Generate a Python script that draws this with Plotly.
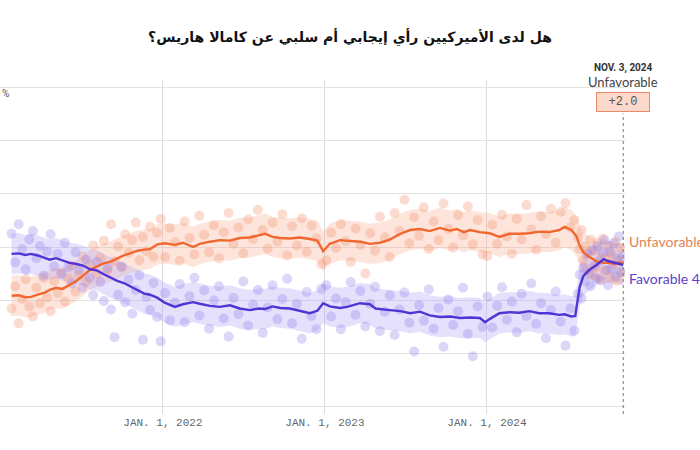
import plotly.graph_objects as go

# ---------------- data ----------------
trend_dates_unfav = ["2021-01-25","2021-02-10","2021-02-25","2021-03-10","2021-03-25","2021-04-10","2021-04-21","2021-05-05","2021-05-20","2021-06-05","2021-06-20","2021-07-05","2021-07-21","2021-08-05","2021-08-20","2021-09-04","2021-09-20","2021-10-05","2021-10-19","2021-11-05","2021-11-20","2021-12-03","2021-12-20","2022-01-05","2022-01-28","2022-02-15","2022-03-10","2022-03-25","2022-04-17","2022-05-10","2022-06-01","2022-06-23","2022-07-16","2022-08-05","2022-08-19","2022-09-05","2022-09-22","2022-10-14","2022-11-05","2022-11-28","2022-12-15","2022-12-28","2023-01-12","2023-02-04","2023-02-20","2023-03-21","2023-04-12","2023-05-05","2023-05-27","2023-06-20","2023-07-12","2023-08-03","2023-08-25","2023-09-17","2023-10-10","2023-10-25","2023-11-10","2023-11-24","2023-12-16","2024-01-07","2024-01-29","2024-02-21","2024-03-14","2024-04-05","2024-04-28","2024-05-20","2024-06-12","2024-06-24","2024-07-09","2024-07-21","2024-07-27","2024-08-05","2024-08-19","2024-09-04","2024-09-20","2024-10-03","2024-10-14","2024-10-25","2024-11-03"]
trend_unfav = [40.8,40.9,40.5,40.6,41.0,41.4,41.9,42.3,42.1,42.8,43.6,44.6,45.7,46.3,46.9,47.2,47.9,48.4,48.8,49.3,49.5,49.6,50.5,50.7,50.4,50.8,50.0,50.6,51.0,51.3,51.2,51.7,51.8,52.2,52.5,51.9,51.7,51.6,51.8,51.5,51.2,49.2,50.6,51.3,51.2,51.0,50.6,50.8,51.4,52.5,53.2,53.4,53.0,53.6,53.1,53.4,52.8,53.2,52.8,52.6,51.9,52.5,52.5,52.6,52.9,52.8,53.2,53.8,53.2,52.0,50.4,49.0,48.1,47.3,47.0,47.0,46.8,47.1,46.9]

trend_dates_fav = ["2021-01-25","2021-02-10","2021-02-25","2021-03-10","2021-03-25","2021-04-10","2021-04-21","2021-05-05","2021-05-20","2021-06-05","2021-06-20","2021-07-05","2021-07-21","2021-08-05","2021-08-20","2021-09-04","2021-09-20","2021-10-05","2021-10-19","2021-11-05","2021-11-20","2021-12-03","2021-12-20","2022-01-05","2022-01-28","2022-02-15","2022-03-10","2022-03-25","2022-04-17","2022-05-09","2022-06-01","2022-06-23","2022-07-16","2022-08-05","2022-08-19","2022-09-05","2022-09-22","2022-10-14","2022-11-05","2022-11-28","2022-12-15","2022-12-28","2023-01-12","2023-02-04","2023-02-20","2023-03-21","2023-04-12","2023-04-25","2023-05-27","2023-06-20","2023-07-12","2023-08-03","2023-08-25","2023-09-17","2023-10-10","2023-11-01","2023-11-24","2023-12-16","2023-12-28","2024-01-07","2024-01-29","2024-02-21","2024-03-14","2024-04-05","2024-04-28","2024-05-20","2024-06-12","2024-06-24","2024-07-09","2024-07-18","2024-07-21","2024-07-28","2024-08-05","2024-08-19","2024-09-04","2024-09-20","2024-09-28","2024-10-14","2024-10-25","2024-11-03"]
trend_fav = [48.7,48.8,48.5,48.7,48.4,48.0,47.6,47.9,47.4,47.0,46.8,46.5,45.8,45.6,44.9,44.2,43.6,43.2,42.6,41.9,41.2,41.0,40.4,39.5,38.7,39.2,39.6,39.3,38.9,38.7,39.0,38.4,38.1,38.4,38.3,38.8,38.5,38.4,37.9,37.5,38.0,39.4,38.8,38.5,38.7,39.4,39.2,38.4,38.1,37.9,37.5,37.8,37.1,36.8,36.9,36.6,36.7,36.6,35.8,36.4,37.5,37.7,37.6,37.9,37.5,37.5,37.2,37.3,36.9,37.0,38.7,42.5,44.5,45.7,46.6,47.7,47.4,47.0,46.8,46.6]

unfav_spread = 3.8
fav_spread = 3.8

poll_dates = [
 "2021-01-25","2021-02-02","2021-02-10","2021-02-18","2021-02-26","2021-03-06","2021-03-14","2021-03-22","2021-03-30","2021-04-07","2021-04-15","2021-04-23","2021-05-01","2021-05-09","2021-05-17","2021-05-25","2021-06-02","2021-06-10","2021-06-18","2021-06-26","2021-07-04","2021-07-12","2021-07-20","2021-07-28","2021-08-05","2021-08-13","2021-08-21","2021-08-29","2021-09-06","2021-09-14","2021-09-22","2021-09-30","2021-10-08","2021-10-16","2021-10-24","2021-11-01","2021-11-09","2021-11-17","2021-11-25","2021-12-03","2021-12-11","2021-12-19","2021-12-27",
 "2022-01-06","2022-01-17","2022-01-28","2022-02-08","2022-02-19","2022-03-02","2022-03-13","2022-03-24","2022-04-04","2022-04-15","2022-04-26","2022-05-07","2022-05-18","2022-05-29","2022-06-09","2022-06-20","2022-07-01","2022-07-12","2022-07-23","2022-08-03","2022-08-14","2022-08-25","2022-09-05","2022-09-16","2022-09-27","2022-10-08","2022-10-19","2022-10-30","2022-11-10","2022-11-21","2022-12-02","2022-12-13","2022-12-24",
 "2023-01-04","2023-01-15","2023-01-26","2023-02-06","2023-02-17","2023-02-28","2023-03-11","2023-03-22","2023-04-02","2023-04-13","2023-04-24","2023-05-05","2023-05-16","2023-05-27","2023-06-07","2023-06-18","2023-06-29","2023-07-10","2023-07-21","2023-08-01","2023-08-12","2023-08-23","2023-09-03","2023-09-14","2023-09-25","2023-10-06","2023-10-17","2023-10-28","2023-11-08","2023-11-19","2023-11-30","2023-12-11","2023-12-22",
 "2024-01-02","2024-01-13","2024-01-24","2024-02-04","2024-02-15","2024-02-26","2024-03-08","2024-03-19","2024-03-30","2024-04-10","2024-04-21","2024-05-02","2024-05-13","2024-05-24","2024-06-04","2024-06-15","2024-06-26","2024-07-07","2024-07-16",
 "2024-07-24","2024-07-28","2024-08-01","2024-08-05","2024-08-09","2024-08-13","2024-08-17","2024-08-21","2024-08-25","2024-08-29","2024-09-02","2024-09-06","2024-09-10","2024-09-14","2024-09-18","2024-09-22","2024-09-26","2024-09-30","2024-10-04","2024-10-08","2024-10-12","2024-10-16","2024-10-20","2024-10-24","2024-10-28","2024-11-01"]

poll_unfav = [
 38.4,42.6,35.6,40.2,43.9,38.8,36.9,42.3,39.4,44.1,40.5,37.9,43.6,41.3,45.2,39.7,44.0,46.5,41.6,44.7,48.2,43.5,46.8,50.3,44.9,48.0,51.2,45.6,54.3,47.3,50.1,46.2,52.4,48.9,51.3,54.6,47.5,51.9,49.2,53.8,48.1,52.7,55.3,
 48.1,53.6,50.9,47.4,54.8,51.7,48.6,55.9,52.3,49.0,54.1,47.9,52.8,56.4,50.6,53.7,48.8,55.2,51.5,57.0,53.2,49.7,54.6,51.0,56.2,48.4,53.9,50.3,55.4,49.1,54.0,51.6,46.8,
 47.5,52.7,49.8,54.3,51.1,47.2,53.5,50.4,45.0,52.6,49.3,55.7,51.8,48.1,56.4,53.0,58.9,50.7,55.6,52.1,57.5,49.6,54.8,51.3,58.2,53.4,49.9,56.0,52.2,57.7,50.5,55.1,48.6,
 48.3,54.2,50.6,56.1,52.0,48.7,55.3,51.4,57.9,53.3,49.5,55.8,52.4,57.2,50.8,56.6,58.3,53.7,55.1,
 51.8,49.6,53.2,47.5,50.1,45.8,48.9,51.4,44.7,49.3,46.2,50.8,43.9,48.0,51.6,45.5,47.9,50.2,44.3,48.6,46.7,51.0,43.6,47.4,49.8,45.1]

poll_fav = [
 52.5,47.1,54.3,49.6,45.8,51.4,53.0,47.9,50.2,44.6,49.1,52.4,46.3,48.7,44.9,50.8,46.2,43.1,49.0,45.7,42.3,47.6,44.1,40.9,47.2,43.4,39.8,46.0,38.2,33.0,41.0,46.3,39.6,43.8,37.4,41.9,44.7,32.5,40.6,38.1,43.2,36.8,32.2,
 41.3,36.2,39.5,43.0,35.8,40.7,44.2,37.1,41.8,34.6,39.9,42.6,36.5,33.1,40.4,37.3,43.5,35.2,39.1,41.9,33.8,38.6,42.8,36.4,40.2,44.0,35.6,39.3,32.7,41.5,37.0,34.5,42.1,
 42.8,36.9,40.3,34.5,39.6,43.4,37.2,41.7,35.0,39.3,42.5,34.1,37.8,40.9,33.4,38.2,41.4,35.7,30.3,39.0,36.1,42.0,34.6,38.5,31.2,40.1,35.3,37.9,42.3,33.6,29.4,38.8,34.9,
 40.6,34.8,38.9,42.4,36.3,39.7,33.9,41.2,37.0,43.1,35.5,39.4,32.8,38.1,41.6,35.9,31.4,38.4,34.2,
 41.2,44.8,40.3,46.1,43.5,48.7,45.0,42.6,49.5,46.4,44.1,50.2,47.3,43.7,48.9,51.3,45.6,42.8,49.1,46.0,50.6,44.4,47.8,52.0,45.3,48.2]

y_grid_values = [20, 30, 40, 50, 60, 70, 80]
x_tick_dates = ["2022-01-01", "2023-01-01", "2024-01-01"]
x_tick_labels = ["JAN. 1, 2022", "JAN. 1, 2023", "JAN. 1, 2024"]
end_date = "2024-11-03"
end_label_unfav = "Unfavorable 48.2%"
end_label_fav = "Favorable 46.2%"
end_unfav_value = 47.0
end_fav_value = 46.4
title_text = "هل لدى الأميركيين رأي إيجابي أم سلبي عن كامالا هاريس؟"

# ---------------- styles ----------------
ORANGE = "#f0672f"
PURPLE = "#5233d4"

fig = go.Figure()

def band(dates, vals, spread, color):
    upper = [v + spread for v in vals]
    lower = [v - spread for v in vals]
    fig.add_trace(go.Scatter(x=dates, y=upper, mode="lines", line=dict(width=0),
                             hoverinfo="skip", showlegend=False))
    fig.add_trace(go.Scatter(x=dates, y=lower, mode="lines", line=dict(width=0),
                             fill="tonexty", fillcolor=color, hoverinfo="skip", showlegend=False))

band(trend_dates_unfav, trend_unfav, unfav_spread, "rgba(250,175,150,0.33)")
band(trend_dates_fav, trend_fav, fav_spread, "rgba(175,165,245,0.33)")

fig.add_trace(go.Scatter(x=poll_dates, y=poll_unfav, mode="markers",
                         marker=dict(size=10, color="rgba(245,150,115,0.33)", line=dict(width=0)),
                         showlegend=False))
fig.add_trace(go.Scatter(x=poll_dates, y=poll_fav, mode="markers",
                         marker=dict(size=10, color="rgba(150,130,235,0.33)", line=dict(width=0)),
                         showlegend=False))

fig.add_trace(go.Scatter(x=trend_dates_unfav, y=trend_unfav, mode="lines",
                         line=dict(color=ORANGE, width=2.4), showlegend=False))
fig.add_trace(go.Scatter(x=trend_dates_fav, y=trend_fav, mode="lines",
                         line=dict(color=PURPLE, width=2.4), showlegend=False))

fig.add_shape(type="line", x0=end_date, x1=end_date, xref="x", yref="paper",
              y0=0.0, y1=0.9, line=dict(color="#777", width=1, dash="dot"))

annotations = [
    dict(x=0, xref="paper", y=80, yref="y", text="%", showarrow=False,
         xanchor="left", yanchor="top", yshift=2, font=dict(size=10, color="#555", family="Roboto")),
    dict(x=end_date, xref="x", y=1.0, yref="paper", yshift=4, text="<b>NOV. 3, 2024</b>", showarrow=False,
         xanchor="center", yanchor="bottom", font=dict(size=10, color="#333", family="Roboto")),
    dict(x=end_date, xref="x", y=1.0, yref="paper", yshift=-12, text="Unfavorable", showarrow=False,
         xanchor="center", yanchor="bottom", font=dict(size=13, color="#444", family="Lato")),
    dict(x=end_date, xref="x", y=1.0, yref="paper", yshift=-32, text="+2.0", showarrow=False,
         xanchor="center", yanchor="bottom", bgcolor="#fcd8ca", bordercolor="#e88a6c", borderwidth=1,
         borderpad=2, width=48,
         font=dict(size=12, color="#555", family="Liberation Mono")),
    dict(x=end_date, xref="x", y=end_unfav_value, yref="y", yshift=21, xshift=4, text=end_label_unfav,
         showarrow=False, xanchor="left", yanchor="middle",
         font=dict(size=14, color="#e5825a", family="Lato")),
    dict(x=end_date, xref="x", y=end_fav_value, yref="y", yshift=-12, xshift=4, text=end_label_fav,
         showarrow=False, xanchor="left", yanchor="middle",
         font=dict(size=14, color="#5a43c9", family="Lato")),
]

fig.update_layout(
    width=700, height=450,
    margin=dict(l=0, r=75, t=80, b=36),
    paper_bgcolor="white", plot_bgcolor="white",
    title=dict(text="<b>" + title_text + "</b>", x=0.5, xanchor="center", y=0.918, yanchor="middle",
               font=dict(size=14, color="#111", family="DejaVu Sans")),
    annotations=annotations,
    xaxis=dict(range=["2020-12-30", "2024-11-07"], tickvals=x_tick_dates, ticktext=x_tick_labels,
               showgrid=True, gridcolor="#dcdcdc", gridwidth=1, zeroline=False, showline=False,
               ticks="", tickfont=dict(size=11, color="#666", family="Liberation Mono")),
    yaxis=dict(range=[18.5, 81.5], tickvals=y_grid_values, showticklabels=False,
               showgrid=True, gridcolor="#e2e2e2", gridwidth=1, zeroline=False, showline=False),
    showlegend=False,
)

fig.write_html("out.html")
